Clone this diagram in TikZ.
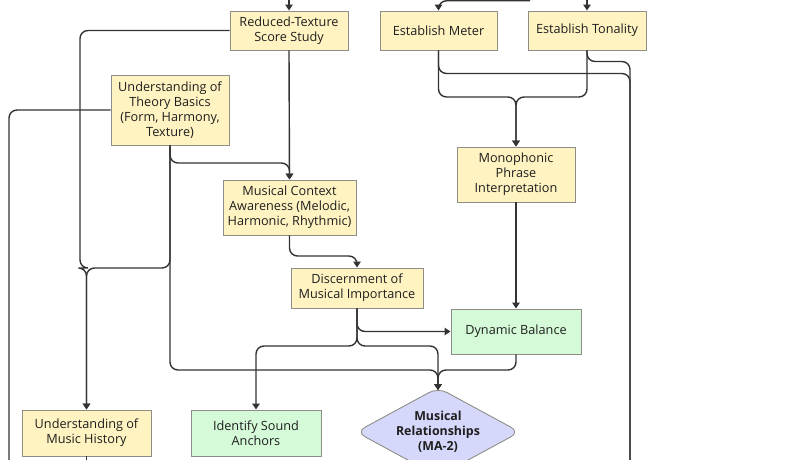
\documentclass[tikz,border=0pt]{standalone}
\usepackage{fontspec}
\setmainfont{Open Sans}
\usetikzlibrary{shapes.geometric,arrows.meta}
\definecolor{boxyellow}{HTML}{FFF3C2}
\definecolor{boxgreen}{HTML}{D5FAD8}
\definecolor{boxlav}{HTML}{D6D8FB}
\definecolor{boxline}{HTML}{8E8E86}
\definecolor{wire}{HTML}{333333}
\definecolor{ink}{HTML}{1F1F1F}
\begin{document}
\begin{tikzpicture}[x=1pt,y=-1pt,
  every node/.style={text=ink,font=\fontsize{12.7}{15}\selectfont},
  box/.style={draw=boxline,line width=0.9pt,align=center,inner sep=0pt},
  task/.style={box,fill=boxyellow},
  skill/.style={box,fill=boxgreen},
  goal/.style={diamond,aspect=1.84,draw=boxline,line width=0.9pt,fill=boxlav,
     rounded corners=10pt,align=center,inner sep=0pt,
     minimum width=164pt,minimum height=89pt,
     font=\fontsize{12.4}{15}\selectfont\bfseries},
  link/.style={draw=wire,line width=1.4pt,rounded corners=8pt,
     -{Triangle[length=6pt,width=7.5pt]}},
  wire/.style={draw=wire,line width=1.4pt,rounded corners=8pt}]
\useasboundingbox (0,0) rectangle (793,460);
\clip (0,0) rectangle (793,460);

% boxes
\node[task,minimum width=118pt,minimum height=39pt] (rts) at (289,30.5) {Reduced-Texture\\Score Study};
\node[task,minimum width=117pt,minimum height=39pt] (meter) at (438.5,30.5) {Establish Meter};
\node[task,minimum width=118pt,minimum height=39pt] (tonal) at (587,30.5) {Establish Tonality};
\node[task,minimum width=118pt,minimum height=70pt] (theory) at (170,110) {Understanding of\\Theory Basics\\(Form, Harmony,\\Texture)};
\node[task,minimum width=133pt,minimum height=55pt] (context) at (289.5,207.5) {Musical Context\\Awareness (Melodic,\\Harmonic, Rhythmic)};
\node[task,minimum width=118pt,minimum height=55pt] (mono) at (516,174.5) {Monophonic\\Phrase\\Interpretation};
\node[task,minimum width=132pt,minimum height=40pt] (disc) at (357,288) {Discernment of\\Musical Importance};
\node[skill,minimum width=130pt,minimum height=45pt] (dyn) at (516,331.5) {Dynamic Balance};
\node[task,minimum width=129pt,minimum height=46pt] (hist) at (86.5,433) {Understanding of\\Music History};
\node[skill,minimum width=130pt,minimum height=46pt] (anchors) at (256,433) {Identify Sound\\Anchors};
\node[goal] (rel) at (438,432) {Musical\\Relationships\\(MA-2)};

% free ends of connectors leaving the frame
\coordinate (inA) at (289,-10);
\coordinate (inB) at (530,0.8);
\coordinate (inC) at (587,-10);
\coordinate (outL) at (9,480);
\coordinate (outH) at (86.5,480);
\coordinate (outR) at (630,480);

% incoming connectors
\draw[link] (inA) -- (rts.north);
\draw[link] (inB) -- (438.5,0.8) -- (meter.north);
\draw[link] (inC) -- (tonal.north);

% from Reduced-Texture Score Study
\draw[link] (rts.west) -- (80,30.5) -- (80,268) -- (86.5,268) -- (hist.north);
\draw[link] (rts.south) -- (context.north);

% from Understanding of Theory Basics
\draw[wire] (theory.west) -- (9,110) -- (outL);
\draw[link] (theory.south) -- (170,163) -- (289.5,163) -- (context.north);
\draw[link] (theory.south) -- (170,268) -- (86.5,268) -- (hist.north);
\draw[link] (theory.south) -- (170,370) -- (438,370) -- ([yshift=-3pt]rel.north);

% from Establish Meter / Establish Tonality
\draw[link] (meter.south) -- (438.5,97) -- (516,97) -- (mono.north);
\draw[link] (tonal.south) -- (587,97) -- (516,97) -- (mono.north);
\draw[wire] (meter.south) -- (438.5,73.5) -- (630,73.5) -- (outR);
\draw[wire] (tonal.south) -- (587,61.5) -- (630,61.5) -- (outR);

% middle of the chain
\draw[link] (context.south) -- (289.5,256) -- (357,256) -- (disc.north);
\draw[link] (mono.south) -- (dyn.north);
\draw[link] (disc.south) -- (357,331.5) -- (dyn.west);
\draw[link] (disc.south) -- (357,346) -- (256,346) -- (anchors.north);
\draw[link] (disc.south) -- (357,346) -- (438,346) -- ([yshift=-3pt]rel.north);
\draw[link] (dyn.south) -- (516,370) -- (438,370) -- ([yshift=-3pt]rel.north);

% continuing below
\draw[wire] (hist.south) -- (outH);
\end{tikzpicture}
\end{document}
